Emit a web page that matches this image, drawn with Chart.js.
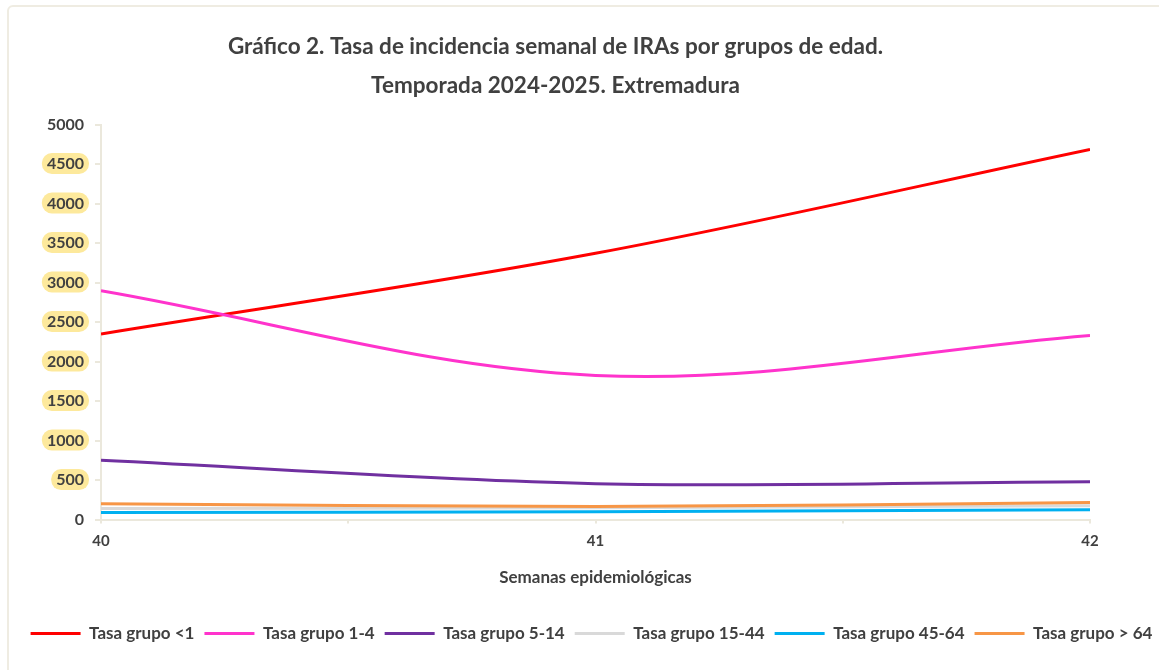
<!DOCTYPE html>
<html lang="es">
<head>
  <meta charset="UTF-8" />
  <title>Tasa de incidencia semanal de IRAs por grupos de edad</title>
  <script src="https://cdn.jsdelivr.net/npm/chart.js"></script>
  <style>
    body { margin: 0; background: #fff; font-family: Lato, sans-serif; }
    #marco { position: absolute; left: 7px; top: 5px; width: 1180px; height: 700px;
             border: 2px solid #efece2; border-radius: 6px; }
    #lienzo { position: absolute; left: 0; top: 0; width: 1159px; height: 670px; }
  </style>
</head>
<body>
  <div id="marco"></div>
  <div id="lienzo"><canvas id="grafico"></canvas></div>

  <script>
    // Semanas epidemiológicas y tasas por grupo de edad
    const semanas = [40, 41, 42];
    const grupos = ['Tasa grupo <1', 'Tasa grupo 1-4', 'Tasa grupo 5-14',
                    'Tasa grupo 15-44', 'Tasa grupo 45-64', 'Tasa grupo > 64'];
    const tasaMenor1 = [2350, 3370, 4685];
    const tasa1a4 = [2895, 1825, 2330];
    const tasa5a14 = [750, 455, 480];
    const tasa15a44 = [140, 150, 175];
    const tasa45a64 = [90, 100, 125];
    const tasaMayor64 = [200, 165, 215];
    const ticksY = [0, 500, 1000, 1500, 2000, 2500, 3000, 3500, 4000, 4500, 5000];
    const resaltados = [500, 1000, 1500, 2000, 2500, 3000, 3500, 4000, 4500];

    const series = [tasaMenor1, tasa1a4, tasa5a14, tasa15a44, tasa45a64, tasaMayor64];
    const colores = ['#ff0000', '#ff33cc', '#7030a0', '#d9d9d9', '#00b0f0', '#f79646'];
    const texto = '#404040';
    const ejes = '#ebe8dc';

    // Fondos amarillos redondeados detrás de algunas etiquetas del eje Y
    const fondoEtiquetas = {
      id: 'fondoEtiquetas',
      beforeDraw(chart) {
        const y = chart.scales.y;
        const ctx = chart.ctx;
        ctx.save();
        ctx.font = 'bold 16px Lato';
        ctx.fillStyle = '#fde99c';
        resaltados.forEach(v => {
          const py = y.getPixelForValue(v);
          const w = ctx.measureText(String(v)).width + 10;
          const right = y.right - 12;
          ctx.beginPath();
          ctx.roundRect(right - w, py - 11, w, 21, 10);
          ctx.fill();
        });
        ctx.restore();
      }
    };

    // El título va algo a la izquierda y la leyenda algo a la derecha del centro
    const centrado = {
      id: 'centrado',
      afterLayout(chart) {
        chart.titleBlock.left -= 24;
        chart.titleBlock.right -= 24;
        chart.legend.left += 12;
        chart.legend.right += 12;
      }
    };

    const ctx = document.getElementById('grafico').getContext('2d');
    new Chart(ctx, {
      type: 'line',
      data: {
        datasets: series.map((s, i) => ({
          label: grupos[i],
          data: s.map((v, j) => ({ x: semanas[j], y: v })),
          borderColor: colores[i],
          backgroundColor: colores[i],
          borderWidth: 3,
          pointRadius: 0,
          tension: 0.35
        })).reverse()
      },
      options: {
        responsive: true,
        maintainAspectRatio: false,
        animation: false,
        layout: { padding: { left: 0, right: 0, top: 28, bottom: 18 } },
        plugins: {
          title: {
            display: true,
            text: ['Gráfico 2. Tasa de incidencia semanal de IRAs por grupos de edad.',
                   'Temporada 2024-2025. Extremadura'],
            color: texto,
            font: { family: 'Lato', size: 22.5, weight: 'bold', lineHeight: 1.7 },
            padding: { top: 0, bottom: 20 }
          },
          legend: {
            position: 'bottom',
            reverse: true,
            labels: {
              color: texto,
              font: { family: 'Lato', size: 17, weight: 'bold' },
              boxWidth: 50,
              boxHeight: 3,
              padding: 10,
              generateLabels(chart) {
                return chart.data.datasets.map((d, i) => ({
                  text: d.label,
                  fillStyle: d.borderColor,
                  strokeStyle: d.borderColor,
                  lineWidth: 0,
                  fontColor: texto,
                  datasetIndex: i
                }));
              }
            }
          },
          tooltip: { enabled: false }
        },
        scales: {
          x: {
            type: 'linear',
            min: 40,
            max: 42,
            ticks: {
              stepSize: 0.5,
              color: texto,
              font: { family: 'Lato', size: 15, weight: 'bold' },
              padding: 9,
              maxRotation: 0,
              callback: v => Number.isInteger(v) ? String(v) : ''
            },
            grid: { drawOnChartArea: false, color: ejes, lineWidth: 2, tickLength: 4 },
            border: { color: ejes, width: 2 },
            title: {
              display: true,
              text: 'Semanas epidemiológicas',
              color: texto,
              font: { family: 'Lato', size: 17, weight: 'bold' },
              padding: { top: 8, bottom: 27 }
            }
          },
          y: {
            min: 0,
            max: 5000,
            afterBuildTicks(scale) { scale.ticks = ticksY.map(v => ({ value: v })); },
            afterFit(scale) { scale.width = 101; },
            ticks: {
              color: texto,
              font: { family: 'Lato', size: 16, weight: 'bold' },
              padding: 11,
              callback: v => String(v)
            },
            grid: { drawOnChartArea: false, color: ejes, lineWidth: 2, tickLength: 6 },
            border: { color: ejes, width: 2 }
          },
          // eje vacío a la derecha para dejar el margen del área de trazado
          margen: {
            position: 'right',
            display: true,
            afterFit(scale) { scale.width = 69; },
            ticks: { display: false },
            grid: { display: false },
            border: { display: false }
          }
        }
      },
      plugins: [fondoEtiquetas, centrado]
    });
  </script>
</body>
</html>
